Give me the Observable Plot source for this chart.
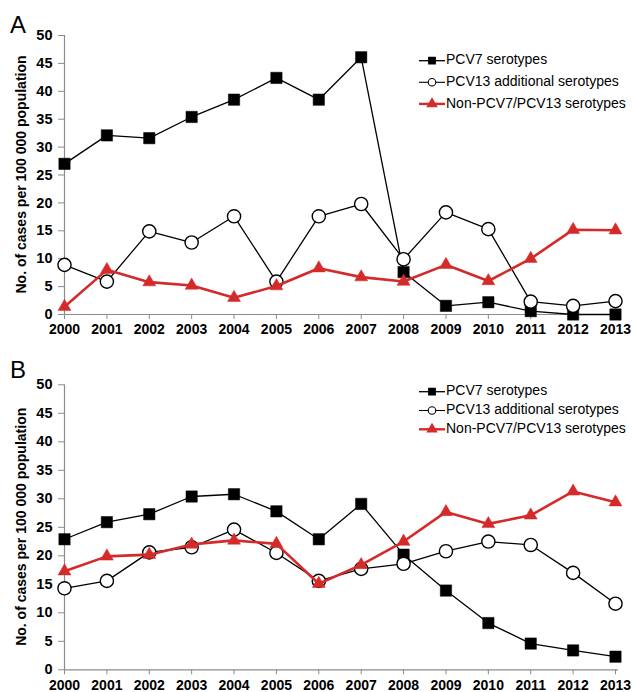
<!DOCTYPE html>
<html><head><meta charset="utf-8">
<script src="https://cdn.jsdelivr.net/npm/d3@7"></script>
<script src="https://cdn.jsdelivr.net/npm/@observablehq/plot@0.6"></script>
<style>
body{margin:0;background:#fff;font-family:"Liberation Sans",Arial,sans-serif}
#chart{width:633px}
#chart svg{display:block;overflow:visible}
</style>
</head><body><div id="chart"></div>
<script>
const years=[2000,2001,2002,2003,2004,2005,2006,2007,2008,2009,2010,2011,2012,2013];
const seriesNames=["PCV7 serotypes","PCV13 additional serotypes","Non-PCV7/PCV13 serotypes"];
const pcv7A=[27.0,32.1,31.6,35.4,38.5,42.4,38.5,46.1,7.6,1.55,2.2,0.6,0,0];
const pcv13A=[8.9,5.9,14.9,12.9,17.6,5.9,17.6,19.8,9.9,18.3,15.3,2.3,1.55,2.4];
const nonA=[1.4,8.0,5.8,5.2,3.0,5.1,8.3,6.7,5.9,8.9,6.0,10.0,15.2,15.1];
const pcv7B=[22.9,25.9,27.3,30.4,30.8,27.8,22.9,29.1,20.2,13.9,8.2,4.6,3.4,2.3];
const pcv13B=[14.3,15.6,20.6,21.5,24.6,20.5,15.6,17.7,18.6,20.8,22.5,21.9,17.0,11.6];
const nonB=[17.3,19.9,20.2,22.0,22.7,22.1,15.1,18.4,22.5,27.7,25.6,27.1,31.3,29.4];
const yTicks=[0,5,10,15,20,25,30,35,40,45,50];
const panelLabels=["A","B"];
const yLabel="No. of cases per 100 000 population";

const RED="#d42a2a", GRAY="#8c8c8c";
const FONT='"Liberation Sans",Arial,sans-serif';

function rows(vals){return years.map((y,i)=>({year:y,value:vals[i]}));}

function panel(label,s7,s13,sNon,o){
  const r7=rows(s7), r13=rows(s13), rN=rows(sNon);
  const svg=Plot.plot({
    width:633,height:o.height,
    marginLeft:64,marginRight:18,marginTop:o.marginTop,marginBottom:o.marginBottom,
    style:{fontFamily:FONT,background:"white",color:"black"},
    x:{domain:[2000,2013],axis:null},
    y:{domain:[0,50],axis:null},
    marks:[
      Plot.ruleY([0],{stroke:GRAY,strokeWidth:1.2,insetRight:-3}),
      Plot.ruleX([2000],{stroke:GRAY,strokeWidth:1.2}),
      Plot.axisY({ticks:yTicks,tickSize:6,tickPadding:6,stroke:GRAY,fill:"black",fontWeight:"bold",fontSize:14.5,label:null}),
      Plot.axisX({ticks:years,tickFormat:d=>String(d),tickSize:5,tickPadding:5,stroke:GRAY,fill:"black",fontWeight:"bold",fontSize:14,label:null}),
      Plot.line(r7,{x:"year",y:"value",stroke:"black",strokeWidth:1.3}),
      Plot.line(r13,{x:"year",y:"value",stroke:"black",strokeWidth:1.3}),
      Plot.dot(r7,{x:"year",y:"value",symbol:"square",r:6.4,fill:"black",stroke:"black",strokeWidth:0.5}),
      Plot.dot(r13,{x:"year",y:"value",symbol:"circle",r:6.6,fill:"white",stroke:"black",strokeWidth:1.4}),
      Plot.line(rN,{x:"year",y:"value",stroke:RED,strokeWidth:2.6}),
      Plot.dot(rN,{x:"year",y:"value",symbol:"triangle",r:4.8,fill:RED,stroke:RED,strokeWidth:0.5})
    ]
  });
  const s=d3.select(svg);
  const top=o.marginTop, bottom=o.height-o.marginBottom;
  s.append("text").attr("x",10).attr("y",33).attr("text-anchor","start").attr("font-size",24).attr("font-family",FONT).attr("fill","black").text(label);
  s.append("text").attr("transform",`translate(22,${(top+bottom)/2}) rotate(-90)`)
    .attr("text-anchor","middle").attr("dominant-baseline","middle")
    .attr("font-size",14).attr("font-weight","bold").attr("font-family",FONT).attr("fill","black").text(yLabel);
  const syms=[{t:d3.symbolSquare,sz:44,fill:"black",stroke:"black",line:"black",lw:1.3},
              {t:d3.symbolCircle,sz:44,fill:"white",stroke:"black",line:"black",lw:1.1},
              {t:d3.symbolTriangle,sz:40,fill:RED,stroke:RED,line:RED,lw:2.4}];
  seriesNames.forEach((nm,i)=>{
    const y=o.legY0+i*o.legStep, sy=syms[i];
    const g=s.append("g");
    g.append("line").attr("x1",419).attr("x2",445).attr("y1",y).attr("y2",y).attr("stroke",sy.line).attr("stroke-width",sy.lw);
    g.append("path").attr("d",d3.symbol(sy.t,sy.sz)()).attr("transform",`translate(432,${y})`)
      .attr("fill",sy.fill).attr("stroke",sy.stroke).attr("stroke-width",1.1);
    g.append("text").attr("x",446).attr("y",y).attr("text-anchor","start").attr("dominant-baseline","middle")
      .attr("font-size",14).attr("font-family",FONT).attr("fill","black").text(nm);
  });
  return svg;
}

const chart=document.getElementById("chart");
chart.append(panel(panelLabels[0],pcv7A,pcv13A,nonA,{height:345,marginTop:35,marginBottom:31,legY0:60.7,legStep:21.6}));
chart.append(panel(panelLabels[1],pcv7B,pcv13B,nonB,{height:347,marginTop:39.3,marginBottom:22.7,legY0:46.7,legStep:18.8}));
</script>
</body></html>
